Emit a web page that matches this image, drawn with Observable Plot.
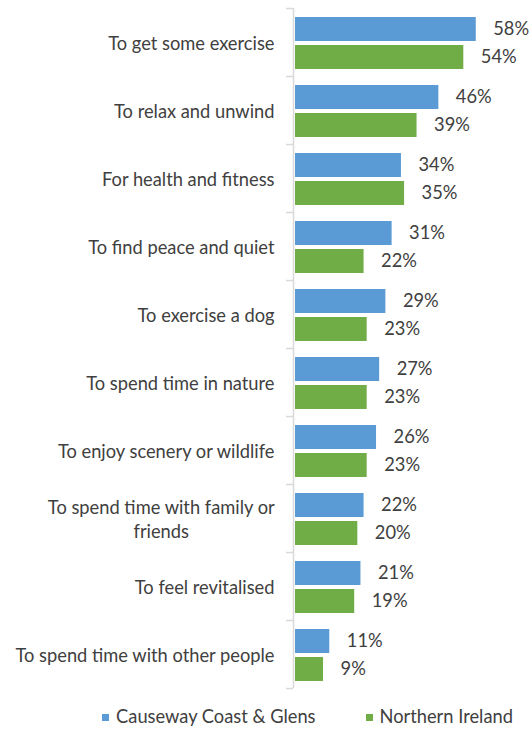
<!DOCTYPE html>
<html>
<head>
<meta charset="utf-8">
<script src="https://cdn.jsdelivr.net/npm/d3@7"></script>
<script src="https://cdn.jsdelivr.net/npm/@observablehq/plot@0.6"></script>
<style>
  body { margin: 0; background: #fff; font-family: Lato, "Open Sans", sans-serif; }
  #chart svg { display: block; }
  #legend { display: flex; justify-content: center; align-items: center; gap: 50px; height: 22px; line-height: 22px; margin-top: 13px; font-size: 18.3px; color: #404040; padding-left: 86px; }
  #legend span.sw { display: inline-block; width: 7px; height: 7px; margin-right: 7px; vertical-align: middle; position: relative; top: -1px; }
</style>
</head>
<body>
<div id="chart"></div>
<div id="legend"></div>
<script>
const categories = [
  "To get some exercise",
  "To relax and unwind",
  "For health and fitness",
  "To find peace and quiet",
  "To exercise a dog",
  "To spend time in nature",
  "To enjoy scenery or wildlife",
  "To spend time with family or\nfriends",
  "To feel revitalised",
  "To spend time with other people"
];
const seriesNames = ["Causeway Coast & Glens", "Northern Ireland"];
const ccgValues = [58, 46, 34, 31, 29, 27, 26, 22, 21, 11];
const niValues = [54, 39, 35, 22, 23, 23, 23, 20, 19, 9];
const colors = ["#5B9BD5", "#70AD47"];

// layout offsets within each category band (fraction of band)
const barSlots = [[9/68, 33/68], [37/68, 61/68]];

const rows = [];
categories.forEach((c, i) => {
  rows.push({cat: c, i, series: seriesNames[0], s: 0, value: ccgValues[i]});
  rows.push({cat: c, i, series: seriesNames[1], s: 1, value: niValues[i]});
});

const FS = 18.3;
const chart = Plot.plot({
  width: 529,
  height: 692,
  marginTop: 8,
  marginBottom: 4,
  marginLeft: 295,
  marginRight: 47,
  style: {fontFamily: "Lato, 'Open Sans', sans-serif", fontSize: FS + "px", color: "#404040"},
  x: {domain: [0, 60], axis: null},
  y: {domain: [0, categories.length], reverse: true, axis: null},
  color: {domain: seriesNames, range: colors},
  marks: [
    Plot.rectX(rows, {
      x: "value",
      y1: d => d.i + barSlots[d.s][0],
      y2: d => d.i + barSlots[d.s][1],
      fill: "series"
    }),
    Plot.text(rows, {
      x: "value",
      y: d => d.i + (barSlots[d.s][0] + barSlots[d.s][1]) / 2,
      text: d => d.value + "%",
      textAnchor: "start",
      dx: 17,
      fill: "#404040",
      fontSize: FS
    }),
    Plot.ruleX([0], {dx: -2, stroke: "#d9d9d9", strokeWidth: 1.5}),
    Plot.axisY({
      ticks: d3.range(categories.length + 1),
      tickSize: 7,
      tickFormat: () => "",
      stroke: "#d9d9d9",
      strokeWidth: 1.5,
      dx: -2
    }),
    Plot.axisY({
      ticks: categories.map((c, i) => i + 0.5),
      tickSize: 0,
      tickPadding: 21,
      tickFormat: v => categories[Math.floor(v)],
      fill: "#404040",
      fontSize: FS,
      lineHeight: 1.3
    })
  ]
});
document.getElementById("chart").appendChild(chart);

// center-align the lines of wrapped category labels, as in the original
d3.select(chart).selectAll("text").each(function() {
  const tspans = this.querySelectorAll("tspan");
  if (tspans.length > 1) {
    const bb = this.getBBox();
    this.setAttribute("text-anchor", "middle");
    tspans.forEach(t => t.setAttribute("x", bb.x + bb.width / 2));
  }
});

const legend = document.getElementById("legend");
seriesNames.forEach((name, k) => {
  const item = document.createElement("div");
  const sw = document.createElement("span");
  sw.className = "sw";
  sw.style.background = colors[k];
  item.appendChild(sw);
  item.appendChild(document.createTextNode(name));
  legend.appendChild(item);
});
</script>
</body>
</html>
